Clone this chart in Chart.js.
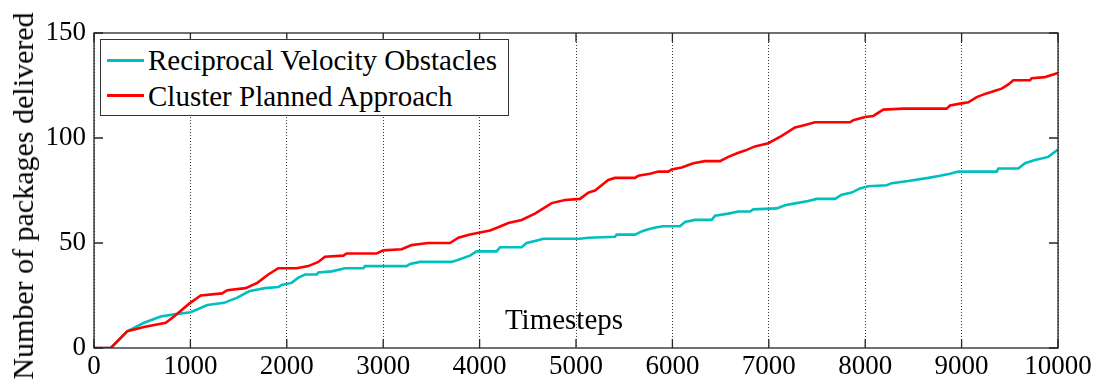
<!DOCTYPE html>
<html lang="en">
<head>
  <meta charset="UTF-8" />
  <title>Number of packages delivered</title>
  <script src="https://cdn.jsdelivr.net/npm/chart.js"></script>
  <style>
    body { margin: 0; background: #fff; }
    #wrap { position: relative; width: 1104px; height: 388px; font-family: "Liberation Serif", "Times New Roman", serif; color: #000; }
    #legend { position: absolute; left: 100px; top: 39px; width: 407px; height: 75px; border: 1px solid #333; background: #fff; }
    .swatch { position: absolute; left: 6px; width: 37px; height: 3px; }
    .ltext { position: absolute; left: 47px; font-size: 29px; line-height: 29px; white-space: nowrap; }
    #xlab { position: absolute; left: 564px; top: 305px; font-size: 29px; line-height: 29px; transform: translateX(-50%); }
    #ylab { position: absolute; left: 23px; top: 196px; font-size: 30px; line-height: 30px; white-space: nowrap; transform: translate(-50%, -50%) rotate(-90deg); }
  </style>
</head>
<body>
  <div id="wrap">
    <canvas id="chart" width="1104" height="388"></canvas>
    <div id="legend"></div>
    <div id="xlab">Timesteps</div>
    <div id="ylab">Number of packages delivered</div>
  </div>

  <script>
    // Reciprocal Velocity Obstacles (cyan)
    const rvoSteps = [0, 175, 346, 519, 692, 830, 1003, 1176, 1349, 1487, 1608, 1712, 1774, 1912, 1946, 2050, 2120, 2189, 2310, 2327, 2465, 2604, 2794, 2811, 3243, 3278, 3382, 3710, 3780, 3900, 3970, 4177, 4212, 4436, 4488, 4574, 4661, 5041, 5128, 5404, 5421, 5612, 5681, 5750, 5837, 5906, 6079, 6131, 6234, 6408, 6442, 6580, 6684, 6805, 6839, 7082, 7168, 7289, 7410, 7497, 7687, 7756, 7860, 7946, 8032, 8223, 8275, 8447, 8655, 8776, 8880, 8966, 9364, 9381, 9588, 9658, 9761, 9899, 10000];
    const rvoCounts = [0, 0, 8, 12, 15, 16, 17, 20.5, 21.5, 24, 27, 28, 28.5, 29, 30, 31, 33.5, 35, 35, 36, 36.5, 38, 38, 39, 39, 40, 41, 41, 42, 44, 46, 46, 48, 48, 50, 51, 52, 52, 52.5, 53, 54, 54, 55.5, 56.5, 57.5, 58, 58, 60, 61, 61, 63, 64, 65, 65, 66, 66.5, 68, 69, 70, 71, 71, 73, 74, 76, 77, 77.5, 78.5, 79.5, 81, 82, 83, 84, 84, 85.5, 85.5, 88, 89.5, 91, 94.5];

    // Cluster Planned Approach (red)
    const cpaSteps = [0, 175, 346, 519, 744, 830, 985, 1107, 1328, 1383, 1573, 1694, 1808, 1912, 2102, 2223, 2327, 2396, 2586, 2621, 2932, 3001, 3192, 3295, 3382, 3468, 3693, 3780, 3900, 4004, 4108, 4194, 4298, 4436, 4574, 4678, 4748, 4886, 5041, 5128, 5197, 5266, 5335, 5404, 5612, 5646, 5768, 5854, 5958, 5992, 6096, 6217, 6338, 6494, 6580, 6684, 6753, 6857, 6995, 7134, 7272, 7358, 7479, 7842, 7877, 7998, 8084, 8188, 8395, 8845, 8880, 9001, 9070, 9157, 9243, 9347, 9416, 9485, 9537, 9710, 9727, 9865, 9934, 10000];
    const cpaCounts = [0, 0, 8, 10, 12, 15, 21, 25, 26, 27.5, 28.5, 31, 35, 38, 38, 39, 41, 43.5, 44, 45, 45, 46.5, 47, 49, 49.5, 50, 50, 52.5, 54, 55, 56, 57.5, 59.5, 61, 64, 67, 69, 70.5, 71, 74, 75, 77.5, 80, 81, 81, 82, 83, 84, 84, 85, 86, 88, 89, 89, 91, 93, 94, 96, 97.5, 101, 105, 106, 107.5, 107.5, 108.5, 110, 110.5, 113.5, 114, 114, 115.5, 116.5, 117, 119.5, 121, 122.5, 123.5, 125.5, 127.5, 127.5, 128.5, 129, 130, 131];

    const xTicks = [0, 1000, 2000, 3000, 4000, 5000, 6000, 7000, 8000, 9000, 10000];
    const yTicks = [0, 50, 100, 150];

    const seriesNames = ['Reciprocal Velocity Obstacles', 'Cluster Planned Approach'];
    const seriesColors = ['#00bfbf', '#ff0000'];

    const toPoints = (xs, ys) => xs.map((x, i) => ({ x, y: ys[i] }));

    const TICK = 9;
    // MATLAB style box with inward ticks on every side
    const boxPlugin = {
      id: 'box',
      afterDraw(chart) {
        const { ctx, chartArea: a, scales: { x, y } } = chart;
        ctx.save();
        ctx.strokeStyle = '#262626';
        ctx.lineWidth = 1.3;
        ctx.beginPath();
        x.ticks.forEach(t => {
          const px = x.getPixelForValue(t.value);
          ctx.moveTo(px, a.bottom); ctx.lineTo(px, a.bottom - TICK);
          ctx.moveTo(px, a.top); ctx.lineTo(px, a.top + TICK);
        });
        y.ticks.forEach(t => {
          const py = y.getPixelForValue(t.value);
          ctx.moveTo(a.left, py); ctx.lineTo(a.left + TICK, py);
          ctx.moveTo(a.right, py); ctx.lineTo(a.right - TICK, py);
        });
        ctx.stroke();
        ctx.strokeRect(a.left, a.top, a.right - a.left, a.bottom - a.top);
        ctx.restore();
      }
    };

    const tickFont = { family: '"Liberation Serif", "Times New Roman", serif', size: 27 };

    const chart = new Chart(document.getElementById('chart'), {
      type: 'line',
      data: {
        datasets: [
          { label: seriesNames[0], data: toPoints(rvoSteps, rvoCounts), borderColor: seriesColors[0], order: 1 },
          { label: seriesNames[1], data: toPoints(cpaSteps, cpaCounts), borderColor: seriesColors[1], order: 0 }
        ]
      },
      options: {
        responsive: false,
        animation: false,
        devicePixelRatio: 1,
        layout: { padding: { top: 33, right: 46, left: 0, bottom: 0 } },
        elements: {
          point: { radius: 0 },
          line: { borderWidth: 2.6, tension: 0, borderCapStyle: 'butt', borderJoinStyle: 'miter' }
        },
        plugins: { legend: { display: false }, tooltip: { enabled: false } },
        scales: {
          x: {
            type: 'linear', min: 0, max: 10000,
            afterBuildTicks: s => { s.ticks = xTicks.map(v => ({ value: v })); },
            afterFit: s => { s.height = 40; },
            ticks: { font: tickFont, color: '#000', padding: 3, maxRotation: 0, autoSkip: false, callback: v => String(v) },
            grid: { color: '#333', lineWidth: 1, drawTicks: false },
            border: { display: false, dash: [1, 2] }
          },
          y: {
            min: 0, max: 150,
            afterBuildTicks: s => { s.ticks = yTicks.map(v => ({ value: v })); },
            afterFit: s => { s.width = 94; },
            ticks: { font: tickFont, color: '#000', padding: 8, callback: v => String(v) },
            grid: { display: false, drawTicks: false },
            border: { display: false }
          }
        }
      },
      plugins: [boxPlugin]
    });

    // legend inside the axes, top left
    const legend = document.getElementById('legend');
    chart.data.datasets.forEach((ds, i) => {
      const sw = document.createElement('div');
      sw.className = 'swatch';
      sw.style.background = ds.borderColor;
      sw.style.top = (19 + i * 35) + 'px';
      legend.appendChild(sw);
      const tx = document.createElement('div');
      tx.className = 'ltext';
      tx.textContent = ds.label;
      tx.style.top = (6 + i * 36) + 'px';
      legend.appendChild(tx);
    });
  </script>
</body>
</html>
